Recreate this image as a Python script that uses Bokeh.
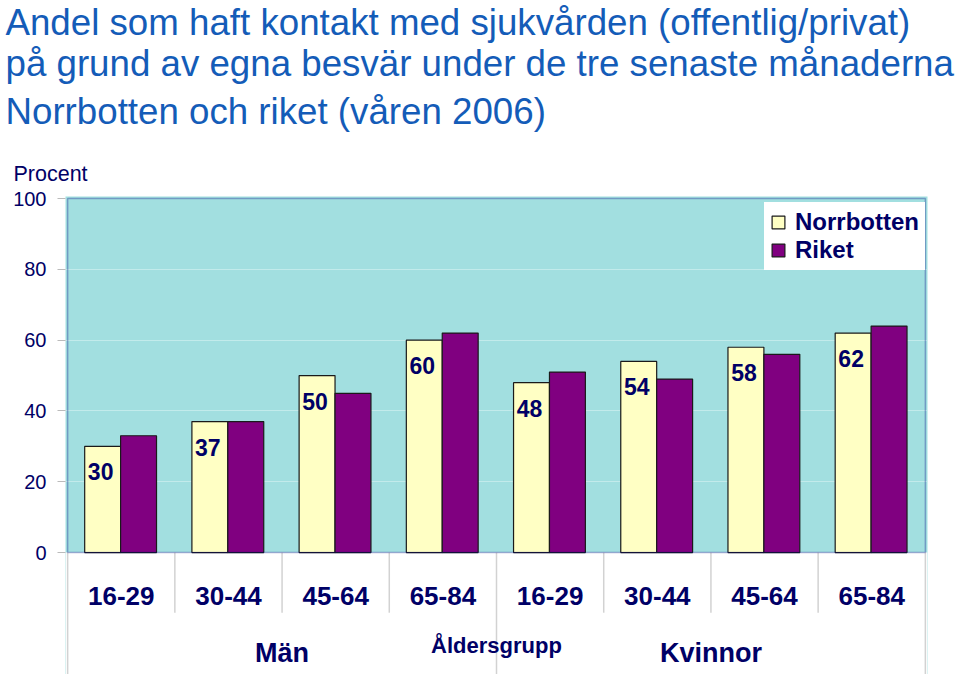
from bokeh.plotting import figure
from bokeh.models import (Range1d, FixedTicker, Title, Legend, LegendItem,
                          ColumnDataSource, BoxAnnotation)
from bokeh.transform import dodge
from bokeh.embed import file_html
from bokeh.resources import INLINE
from bokeh.core.properties import value

# ---------------- data ----------------
title_lines = [
    "Andel som haft kontakt med sjukvården (offentlig/privat)",
    "på grund av egna besvär under de tre senaste månaderna",
    "Norrbotten och riket (våren 2006)",
]
age_groups = ["16-29", "30-44", "45-64", "65-84", "16-29", "30-44", "45-64", "65-84"]
sex_groups = ["Män", "Kvinnor"]
norrbotten = [30, 37, 50, 60, 48, 54, 58, 62]
riket = [33, 37, 45, 62, 51, 49, 56, 64]
series_names = ["Norrbotten", "Riket"]
y_ticks = [0, 20, 40, 60, 80, 100]
grid_ticks = [20, 40, 60, 80]
y_unit = "Procent"
x_title = "Åldersgrupp"

# ---------------- style ----------------
FONT = "Liberation Sans"
NAVY = "#000066"
TITLE_BLUE = "#145cb8"
BG = "#a2dfe0"
GRID = "#c2ebeb"
SEP = "#d2d2d2"
C_N = "#ffffc4"
C_R = "#800080"
BAR_W = 0.335

n_cat = len(age_groups)
per_group = n_cat // len(sex_groups)
centers = [i + 0.5 for i in range(n_cat)]
src = ColumnDataSource(dict(
    x=centers,
    cat=age_groups,
    n=norrbotten,
    r=riket,
    nlab=[str(v) for v in norrbotten],
))

p = figure(width=960, height=674, title=None,
           x_range=Range1d(-0.02, n_cat + 0.02),
           y_range=Range1d(-34.46, 100.6),
           output_backend="svg", toolbar_location=None,
           x_axis_location=None,
           min_border_left=65, min_border_right=33,
           min_border_top=196, min_border_bottom=0,
           background_fill_color=BG, border_fill_color="white",
           outline_line_color=None)

# white area below zero (category label zone)
p.add_layout(BoxAnnotation(top=0, fill_color="white", fill_alpha=1.0,
                           line_alpha=0, level="underlay"))

# grid
p.xgrid.visible = False
p.ygrid.ticker = FixedTicker(ticks=grid_ticks)
p.ygrid.grid_line_color = GRID
p.ygrid.grid_line_width = 1

# y axis
yax = p.yaxis[0]
yax.ticker = FixedTicker(ticks=y_ticks)
yax.axis_line_color = None
yax.major_tick_in = 0
yax.major_tick_out = 8
yax.major_tick_line_color = "#bbbbbb"
yax.minor_tick_line_color = None
yax.major_label_standoff = 11
yax.major_label_text_font = FONT
yax.major_label_text_font_size = "20px"
yax.major_label_text_color = NAVY

# bars
xn = dodge("x", -BAR_W / 2 - 0.006)
xr = dodge("x", BAR_W / 2 - 0.006)
rn = p.vbar(x=xn, top="n", width=BAR_W, source=src,
            fill_color=C_N, line_color="#1a1a1a", line_width=1.2)
rr = p.vbar(x=xr, top="r", width=BAR_W, source=src,
            fill_color=C_R, line_color="#1a1a1a", line_width=1.2)

# value labels in Norrbotten bars
p.text(x=xn, y="n", text="nlab", source=src,
       text_align="center", text_baseline="alphabetic",
       x_offset=-2, y_offset=25.5,
       text_font=value(FONT), text_font_style="bold",
       text_font_size="23px", text_color=NAVY)

# plot-area border
p.add_layout(BoxAnnotation(left=0, right=n_cat, bottom=0, top=y_ticks[-1],
                           fill_alpha=0, line_color="#000080", line_width=1.5))

# separators below the plot area
inner_bounds = [i for i in range(1, n_cat) if i % per_group != 0]
group_bounds = [i for i in range(0, n_cat + 1) if i % per_group == 0]
p.segment(x0=inner_bounds, y0=[0] * len(inner_bounds),
          x1=inner_bounds, y1=[-17] * len(inner_bounds),
          line_color=SEP, line_width=1.5)
p.segment(x0=group_bounds, y0=[0] * len(group_bounds),
          x1=group_bounds, y1=[-40] * len(group_bounds),
          line_color=SEP, line_width=1.5)

# category labels
p.text(x="x", y=0, text="cat", source=src,
       text_align="center", text_baseline="alphabetic", y_offset=43,
       text_font=value(FONT), text_font_style="bold",
       text_font_size="26px", text_color=NAVY)

# group labels
group_centers = [g * per_group + per_group / 2 for g in range(len(sex_groups))]
p.text(x=group_centers, y=[0] * len(sex_groups), text=sex_groups,
       text_align="center", text_baseline="alphabetic", y_offset=100,
       text_font=value(FONT), text_font_style="bold",
       text_font_size="27px", text_color=NAVY)
p.text(x=[n_cat / 2], y=[0], text=[x_title],
       text_align="center", text_baseline="alphabetic", y_offset=93,
       text_font=value(FONT), text_font_style="bold",
       text_font_size="22px", text_color=NAVY)

# legend
legend = Legend(items=[LegendItem(label=series_names[0], renderers=[rn]),
                       LegendItem(label=series_names[1], renderers=[rr])],
                location=(699, 404),
                background_fill_color="white", background_fill_alpha=1.0,
                border_line_alpha=0,
                glyph_width=16, glyph_height=16,
                label_standoff=9, padding=6, spacing=0, margin=0,
                label_text_font=FONT, label_text_font_style="bold",
                label_text_font_size="24px", label_text_color=NAVY)
p.add_layout(legend, "center")

# unit label and title lines (stacked above the plot area, nearest first)
p.add_layout(Title(text=y_unit, align="left", offset=-52, standoff=21.4,
                   text_font=FONT, text_font_size="21.5px",
                   text_font_style="normal", text_color=NAVY), "above")
p.add_layout(Title(text=title_lines[2], align="left", offset=-60, standoff=34.6,
                   text_font=FONT, text_font_size="36.7px",
                   text_font_style="normal", text_color=TITLE_BLUE), "above")
p.add_layout(Title(text="\n".join(title_lines[:2]), align="left", offset=-60,
                   standoff=-24.6, text_line_height=1.0,
                   text_font=FONT, text_font_size="36.7px",
                   text_font_style="normal", text_color=TITLE_BLUE), "above")

open("out.html", "w").write(file_html(p, INLINE))
